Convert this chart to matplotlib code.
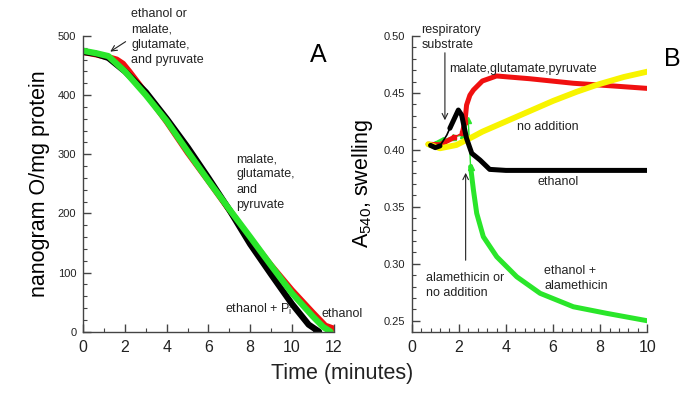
import matplotlib
matplotlib.use("Agg")
import matplotlib.pyplot as plt
from matplotlib.ticker import MultipleLocator, FormatStrFormatter

plt.rcParams['font.family'] = ['Liberation Sans', 'DejaVu Sans']

# panel A: oxygen consumption (nanogram O/mg protein) vs time (min)
t_red_a = [0, 0.6, 1.2, 1.6, 1.9, 2.2, 3, 4, 5, 6, 7, 8, 9, 10, 11, 11.6, 12]
o_red_a = [473, 469, 464, 460, 453, 440, 403, 355, 303, 255, 206, 157, 112, 70, 32, 10, 5]
t_black_a = [0, 0.6, 1.2, 2, 3, 4, 5, 6, 7, 8, 9, 10, 10.8, 11.3]
o_black_a = [473, 470, 463, 440, 405, 360, 312, 260, 206, 148, 97, 47, 12, 0]
t_green_a = [0, 0.6, 1.2, 2, 3, 4, 5, 6, 7, 8, 9, 10, 11, 11.5, 11.85]
o_green_a = [475, 471, 466, 440, 400, 356, 305, 255, 207, 160, 112, 65, 26, 8, 0]

# panel B: A540 swelling vs time (min)
t_yellow_b = [0.7, 1.2, 1.9, 2.6, 3, 4, 5, 6, 7, 7.7, 8, 9, 10]
a_yellow_b = [0.405, 0.4014, 0.4043, 0.4116, 0.416, 0.425, 0.434, 0.443, 0.451, 0.456, 0.458, 0.464, 0.4687]
t_red_b = [0.7, 1.2, 1.8, 2.15, 2.26, 2.33, 2.47, 2.62, 3.0, 3.6, 5.0, 6.86, 8.5, 10]
a_red_b = [0.405, 0.4045, 0.411, 0.415, 0.4247, 0.4394, 0.448, 0.4526, 0.4605, 0.4649, 0.4625, 0.4585, 0.4562, 0.454]
t_black_b = [0.8, 1.0, 1.2, 1.49, 1.62, 1.98, 2.12, 2.33, 2.55, 2.9, 3.31, 4, 6, 8, 10]
a_black_b = [0.404, 0.402, 0.4035, 0.413, 0.419, 0.435, 0.4306, 0.410, 0.397, 0.3911, 0.3829, 0.382, 0.382, 0.382, 0.382]
t_green_b = [0.78, 1.0, 1.34, 1.77, 2.19, 2.40, 2.50, 2.62, 2.76, 3.04, 3.61, 4.46, 5.45, 6.86, 8.28, 10]
a_green_b = [0.404, 0.405, 0.4087, 0.4116, 0.413, 0.426, 0.3852, 0.3648, 0.3443, 0.3238, 0.3062, 0.2886, 0.2741, 0.2623, 0.2565, 0.250]

RED = '#f01010'
GREEN = '#2ae62a'
YELLOW = '#f8f400'
TXT = '#222222'

fig = plt.figure(figsize=(6.85, 4.09), dpi=100)
axA = fig.add_axes([0.1216, 0.189, 0.3655, 0.723])
axB = fig.add_axes([0.601, 0.189, 0.344, 0.723])

def style(ax):
    for s in ['top', 'right']:
        ax.spines[s].set_visible(False)
    for s in ['left', 'bottom']:
        ax.spines[s].set_color('#444444')
        ax.spines[s].set_linewidth(1.0)
    ax.tick_params(which='both', direction='in', color='#444444', labelcolor=TXT)
    ax.tick_params(which='major', length=5.5, width=1.0)
    ax.tick_params(which='minor', length=2.8, width=0.8)
    ax.tick_params(axis='x', labelsize=11.5, pad=6)
    ax.tick_params(axis='y', labelsize=8, pad=5)

# ---- A
axA.plot(t_red_a, o_red_a, color=RED, lw=4.5, solid_capstyle='round')
axA.plot(t_black_a, o_black_a, color='black', lw=4.5, solid_capstyle='round')
axA.plot(t_green_a, o_green_a, color=GREEN, lw=4.5, solid_capstyle='round')
axA.set_xlim(0, 12)
axA.set_ylim(0, 500)
axA.xaxis.set_major_locator(MultipleLocator(2))
axA.xaxis.set_minor_locator(MultipleLocator(1))
axA.yaxis.set_major_locator(MultipleLocator(100))
axA.yaxis.set_minor_locator(MultipleLocator(20))
style(axA)
axA.set_ylabel('nanogram O/mg protein', fontsize=15.5, labelpad=6)

fs = 9
ls = 1.36
axA.text(2.29, 547, 'ethanol or\nmalate,\nglutamate,\nand pyruvate', fontsize=fs, color=TXT,
         va='top', ha='left', linespacing=ls, clip_on=False)
axA.annotate('', xy=(1.18, 471), xytext=(2.14, 493),
             arrowprops=dict(arrowstyle='->', color=TXT, lw=0.8))
axA.text(7.35, 302, 'malate,\nglutamate,\nand\npyruvate', fontsize=fs, color=TXT,
         va='top', ha='left', linespacing=ls)
axA.text(6.79, 31, r'ethanol + P$_\mathregular{i}$', fontsize=fs, color=TXT, va='baseline')
axA.text(11.44, 25, 'ethanol', fontsize=fs, color=TXT, va='baseline', clip_on=False)

# ---- B
# thin connecting segments with sparse markers where the trace jumps
axB.plot(t_green_b[1:7], a_green_b[1:7], color=GREEN, lw=1, marker='^', ms=4)
axB.plot(t_green_b[:3], a_green_b[:3], color=GREEN, lw=3.6, solid_capstyle='round')
axB.plot(t_green_b[6:], a_green_b[6:], color=GREEN, lw=3.6, solid_capstyle='round')
axB.plot(t_red_b[1:5], a_red_b[1:5], color=RED, lw=1, marker='s', ms=3)
axB.plot(t_red_b[:3], a_red_b[:3], color=RED, lw=3.6, solid_capstyle='round')
axB.plot(t_red_b[3:], a_red_b[3:], color=RED, lw=3.6, solid_capstyle='round')
axB.plot(t_yellow_b, a_yellow_b, color=YELLOW, lw=4.2, solid_capstyle='round')
axB.plot(t_black_b[2:6], a_black_b[2:6], color='black', lw=1.2)
axB.plot(t_black_b[:3], a_black_b[:3], color='black', lw=3.6, solid_capstyle='round')
axB.plot(t_black_b[4:], a_black_b[4:], color='black', lw=3.6, solid_capstyle='round')
axB.set_xlim(0, 10)
axB.set_ylim(0.2404, 0.50)
axB.xaxis.set_major_locator(MultipleLocator(2))
axB.xaxis.set_minor_locator(MultipleLocator(0.4))
axB.yaxis.set_major_locator(MultipleLocator(0.05))
axB.yaxis.set_minor_locator(MultipleLocator(0.01))
axB.yaxis.set_major_formatter(FormatStrFormatter('%.2f'))
style(axB)
axB.set_ylabel(r'A$_\mathregular{540}$, swelling', fontsize=15.5, labelpad=6)

axB.text(0.42, 0.5105, 'respiratory\nsubstrate', fontsize=fs, color=TXT,
         va='top', ha='left', linespacing=ls, clip_on=False)
axB.annotate('', xy=(1.41, 0.4236), xytext=(1.41, 0.4877),
             arrowprops=dict(arrowstyle='->', color=TXT, lw=0.8))
axB.text(1.60, 0.471, 'malate,glutamate,pyruvate', fontsize=fs, color=TXT, va='center')
axB.text(4.48, 0.4204, 'no addition', fontsize=fs, color=TXT, va='center')
axB.text(5.33, 0.372, 'ethanol', fontsize=fs, color=TXT, va='center')
axB.text(0.59, 0.293, 'alamethicin or\nno addition', fontsize=fs, color=TXT,
         va='top', ha='left', linespacing=ls)
axB.annotate('', xy=(2.29, 0.3823), xytext=(2.29, 0.3007),
             arrowprops=dict(arrowstyle='->', color=TXT, lw=0.8))
axB.text(5.62, 0.2989, 'ethanol +\nalamethicin', fontsize=fs, color=TXT,
         va='top', ha='left', linespacing=ls)

fig.text(0.464, 0.866, 'A', fontsize=18, ha='center', va='center', color='black')
fig.text(0.981, 0.856, 'B', fontsize=18, ha='center', va='center', color='black')
fig.text(0.499, 0.088, 'Time (minutes)', fontsize=15.5, ha='center', va='center', color=TXT)

fig.savefig('out.png', dpi=100)
